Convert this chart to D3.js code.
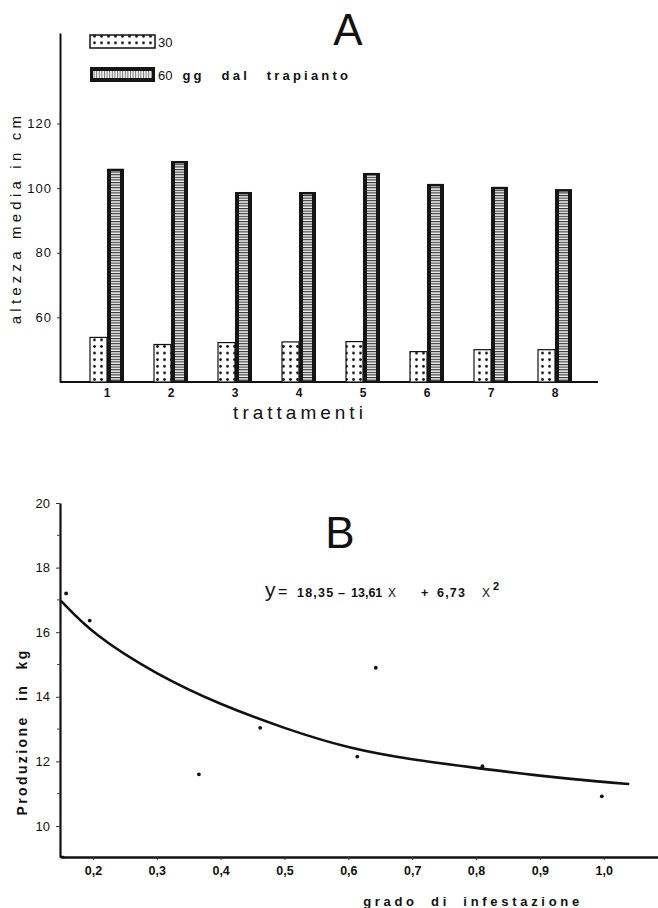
<!DOCTYPE html>
<html>
<head>
<meta charset="utf-8">
<script src="https://cdn.jsdelivr.net/npm/d3@7"></script>
<style>
  html, body { margin: 0; padding: 0; background: #fff; }
  svg { display: block; }
  text { font-family: "Liberation Sans", Arial, sans-serif; fill: #111; }
</style>
</head>
<body>
<script>
// ---------- DATA ----------
const treatments = ["1", "2", "3", "4", "5", "6", "7", "8"];
const height30 = [53.8, 51.6, 52.2, 52.4, 52.5, 49.4, 50.0, 50.0];
const height60 = [106.0, 108.4, 98.8, 98.8, 104.7, 101.3, 100.4, 99.7];
const ticksA = [60, 80, 100, 120];
const legendLabels = ["30", "60", "gg dal trapianto"];

const infestX = [0.158, 0.195, 0.366, 0.462, 0.614, 0.643, 0.81, 0.997];
const prodY = [17.2, 16.36, 11.6, 13.04, 12.15, 14.9, 11.85, 10.92];
const curveX = [0.15, 0.2, 0.3, 0.4, 0.5, 0.6, 0.7, 0.8, 0.9, 1.0, 1.04];
const curveY = [16.97, 15.93, 14.68, 13.75, 13.02, 12.4, 12.05, 11.8, 11.55, 11.36, 11.3];
const ticksBY = [10, 12, 14, 16, 18, 20];
const ticksBYminor = [11, 13, 15, 17, 19];
const ticksBX = [0.2, 0.3, 0.4, 0.5, 0.6, 0.7, 0.8, 0.9, 1.0];
const ticksBXLabels = ["0,2", "0,3", "0,4", "0,5", "0,6", "0,7", "0,8", "0,9", "1,0"];
const equationParts = ["y", "=", "18,35", "\u2013", "13,61", "X", "+", "6,73", "X", "2"];

// ---------- SVG ----------
const W = 658, H = 908;
const svg = d3.select("body").append("svg").attr("width", W).attr("height", H);
const defs = svg.append("defs");

const dots = defs.append("pattern").attr("id", "dots").attr("patternUnits", "userSpaceOnUse")
  .attr("width", 7).attr("height", 6.6);
dots.append("rect").attr("width", 7).attr("height", 6.6).attr("fill", "#fff");
dots.append("circle").attr("cx", 3.5).attr("cy", 3.3).attr("r", 1.4).attr("fill", "#111");

const hatch = defs.append("pattern").attr("id", "hatch").attr("patternUnits", "userSpaceOnUse")
  .attr("width", 4).attr("height", 2.6);
hatch.append("rect").attr("width", 4).attr("height", 2.6).attr("fill", "#f2f2f2");
hatch.append("rect").attr("width", 4).attr("height", 1.1).attr("fill", "#333");

const vhatch = defs.append("pattern").attr("id", "vhatch").attr("patternUnits", "userSpaceOnUse")
  .attr("width", 2.6).attr("height", 4);
vhatch.append("rect").attr("width", 2.6).attr("height", 4).attr("fill", "#f4f4f4");
vhatch.append("rect").attr("width", 1).attr("height", 4).attr("fill", "#777");

// ================= CHART A =================
const axA = 60;
const yA = d3.scaleLinear().domain([40, 148]).range([382, 33]);
const xA = d3.scaleBand().domain(treatments).range([75, 587]);
const barW = 17;

const gA = svg.append("g");

// y axis
const yAxisA = d3.axisLeft(yA).tickValues(ticksA).tickSize(3).tickSizeOuter(0).tickPadding(5)
  .tickFormat(d3.format("d"));
const gyA = gA.append("g").attr("transform", `translate(${axA},0)`).call(yAxisA);
gyA.select(".domain").attr("stroke", "#111").attr("stroke-width", 2);
gyA.selectAll(".tick line").attr("stroke", "#333");
gyA.selectAll(".tick text").attr("font-size", 13).attr("fill", "#444")
  .attr("letter-spacing", 1).attr("font-family", "Liberation Sans, Arial, sans-serif");

// baseline
gA.append("line").attr("x1", axA).attr("x2", 598).attr("y1", yA(40)).attr("y2", yA(40))
  .attr("stroke", "#111").attr("stroke-width", 2);

// bars 30
gA.selectAll("rect.b30").data(treatments).join("rect").attr("class", "b30")
  .attr("x", d => xA(d) + xA.bandwidth() / 2 - barW)
  .attr("y", (d, i) => yA(height30[i]))
  .attr("width", barW)
  .attr("height", (d, i) => yA(40) - yA(height30[i]))
  .attr("fill", "url(#dots)").attr("stroke", "#111").attr("stroke-width", 1.2);

// bars 60: black outer + hatched inner
gA.selectAll("rect.b60").data(treatments).join("rect").attr("class", "b60")
  .attr("x", d => xA(d) + xA.bandwidth() / 2)
  .attr("y", (d, i) => yA(height60[i]))
  .attr("width", barW)
  .attr("height", (d, i) => yA(40) - yA(height60[i]))
  .attr("fill", "#141414");
gA.selectAll("rect.b60i").data(treatments).join("rect").attr("class", "b60i")
  .attr("x", d => xA(d) + xA.bandwidth() / 2 + 4)
  .attr("y", (d, i) => yA(height60[i]) + 2.5)
  .attr("width", barW - 8)
  .attr("height", (d, i) => yA(40) - yA(height60[i]) - 4)
  .attr("fill", "url(#hatch)");

// category labels
const xAxisA = d3.axisBottom(xA).tickSize(0).tickPadding(6);
const gxA = gA.append("g").attr("transform", `translate(0,${yA(40)})`).call(xAxisA);
gxA.select(".domain").remove();
gxA.selectAll(".tick text").attr("font-size", 12).attr("font-weight", "bold").attr("fill", "#111")
  .attr("font-family", "Liberation Sans, Arial, sans-serif");

// axis titles
gA.append("text").attr("transform", `translate(21,218) rotate(-90)`).attr("text-anchor", "middle")
  .attr("font-size", 15).attr("letter-spacing", 4.2).attr("fill", "#333")
  .text("altezza media in cm");
gA.append("text").attr("x", 300).attr("y", 419).attr("text-anchor", "middle")
  .attr("font-size", 19).attr("letter-spacing", 4).text("trattamenti");

// panel letter
gA.append("text").attr("x", 348).attr("y", 45).attr("text-anchor", "middle")
  .attr("font-size", 44).text("A");

// legend
const legY = [35, 67];
gA.append("rect").attr("x", 90).attr("y", legY[0]).attr("width", 65).attr("height", 13)
  .attr("fill", "url(#dots)").attr("stroke", "#111").attr("stroke-width", 1.5);
gA.append("rect").attr("x", 90).attr("y", legY[1]).attr("width", 65).attr("height", 15)
  .attr("fill", "#141414");
gA.append("rect").attr("x", 93).attr("y", legY[1] + 4).attr("width", 59).attr("height", 7)
  .attr("fill", "url(#vhatch)");
gA.append("text").attr("x", 158).attr("y", legY[0] + 12).attr("font-size", 13).text(legendLabels[0]);
const leg2 = gA.append("text").attr("x", 158).attr("y", legY[1] + 13).attr("font-size", 13);
leg2.append("tspan").text(legendLabels[1]);
leg2.append("tspan").attr("dx", 10).attr("font-weight", "bold").attr("letter-spacing", 3.2)
  .attr("word-spacing", 10).text(legendLabels[2]);

// ================= CHART B =================
const axB = 60;
const yB = d3.scaleLinear().domain([9.04, 20]).range([857, 503]);
const xB = d3.scaleLinear().domain([0.15, 1.085]).range([61, 658]);
const gB = svg.append("g");

// y axis
const yAxisB = d3.axisLeft(yB).tickValues(ticksBY).tickSize(4).tickSizeOuter(0).tickPadding(6)
  .tickFormat(d3.format("d"));
const gyB = gB.append("g").attr("transform", `translate(${axB},0)`).call(yAxisB);
gyB.select(".domain").attr("stroke", "#111").attr("stroke-width", 2.2);
gyB.selectAll(".tick line").attr("stroke", "#333");
gyB.selectAll(".tick text").attr("font-size", 13).attr("fill", "#444")
  .attr("font-family", "Liberation Sans, Arial, sans-serif");
gB.selectAll("line.minor").data(ticksBYminor).join("line").attr("class", "minor")
  .attr("x1", axB - 3).attr("x2", axB).attr("y1", d => yB(d)).attr("y2", d => yB(d))
  .attr("stroke", "#444");

// x axis
const xAxisB = d3.axisBottom(xB).tickValues(ticksBX).tickSize(3).tickSizeOuter(0).tickPadding(6)
  .tickFormat((d, i) => ticksBXLabels[i]);
const gxB = gB.append("g").attr("transform", `translate(0,${yB(9.04)})`).call(xAxisB);
gxB.select(".domain").attr("stroke", "#111").attr("stroke-width", 2.4);
gxB.selectAll(".tick line").attr("stroke", "#333");
gxB.selectAll(".tick text").attr("font-size", 12.5).attr("font-weight", "bold").attr("fill", "#111")
  .attr("font-family", "Liberation Sans, Arial, sans-serif");
gB.append("line").attr("x1", axB).attr("x2", xB(0.155)).attr("y1", yB(9.04)).attr("y2", yB(9.04))
  .attr("stroke", "#111").attr("stroke-width", 2.4);

// fitted curve
const line = d3.line().x(d => xB(d[0])).y(d => yB(d[1])).curve(d3.curveBasis);
gB.append("path").datum(curveX.map((x, i) => [x, curveY[i]]))
  .attr("d", line).attr("fill", "none").attr("stroke", "#111").attr("stroke-width", 2.6);

// points
gB.selectAll("circle.pt").data(infestX).join("circle").attr("class", "pt")
  .attr("cx", d => xB(d)).attr("cy", (d, i) => yB(prodY[i])).attr("r", 1.9).attr("fill", "#111");

// titles
gB.append("text").attr("transform", `translate(27,732) rotate(-90)`).attr("text-anchor", "middle")
  .attr("font-size", 14).attr("font-weight", "bold").attr("letter-spacing", 2.4).attr("word-spacing", 8)
  .text("Produzione in kg");
gB.append("text").attr("x", 473).attr("y", 906).attr("text-anchor", "middle")
  .attr("font-size", 13).attr("font-weight", "bold").attr("letter-spacing", 3.7).attr("word-spacing", 6)
  .text("grado di infestazione");

gB.append("text").attr("x", 340).attr("y", 548).attr("text-anchor", "middle")
  .attr("font-size", 44).text("B");

// equation (text layout positions)
const eqX = [265, 278, 297, 338, 351, 388, 421, 437, 482, 493];
const eq = gB.append("text").attr("y", 597).attr("font-size", 12.5).attr("font-weight", "bold");
equationParts.forEach((p, i) => {
  const t = eq.append("tspan").attr("x", eqX[i]).text(p);
  if (i === 0) t.attr("font-size", 21).attr("font-weight", "normal");
  if (i === 1) t.attr("font-size", 16).attr("font-weight", "normal");
  if (i === 2 || i === 7) t.attr("letter-spacing", 1.2);
  if (i === 5 || i === 8) t.attr("font-weight", "normal").attr("font-size", 12);
  if (i === 9) t.attr("dy", -7).attr("font-size", 11);
});
</script>
</body>
</html>
